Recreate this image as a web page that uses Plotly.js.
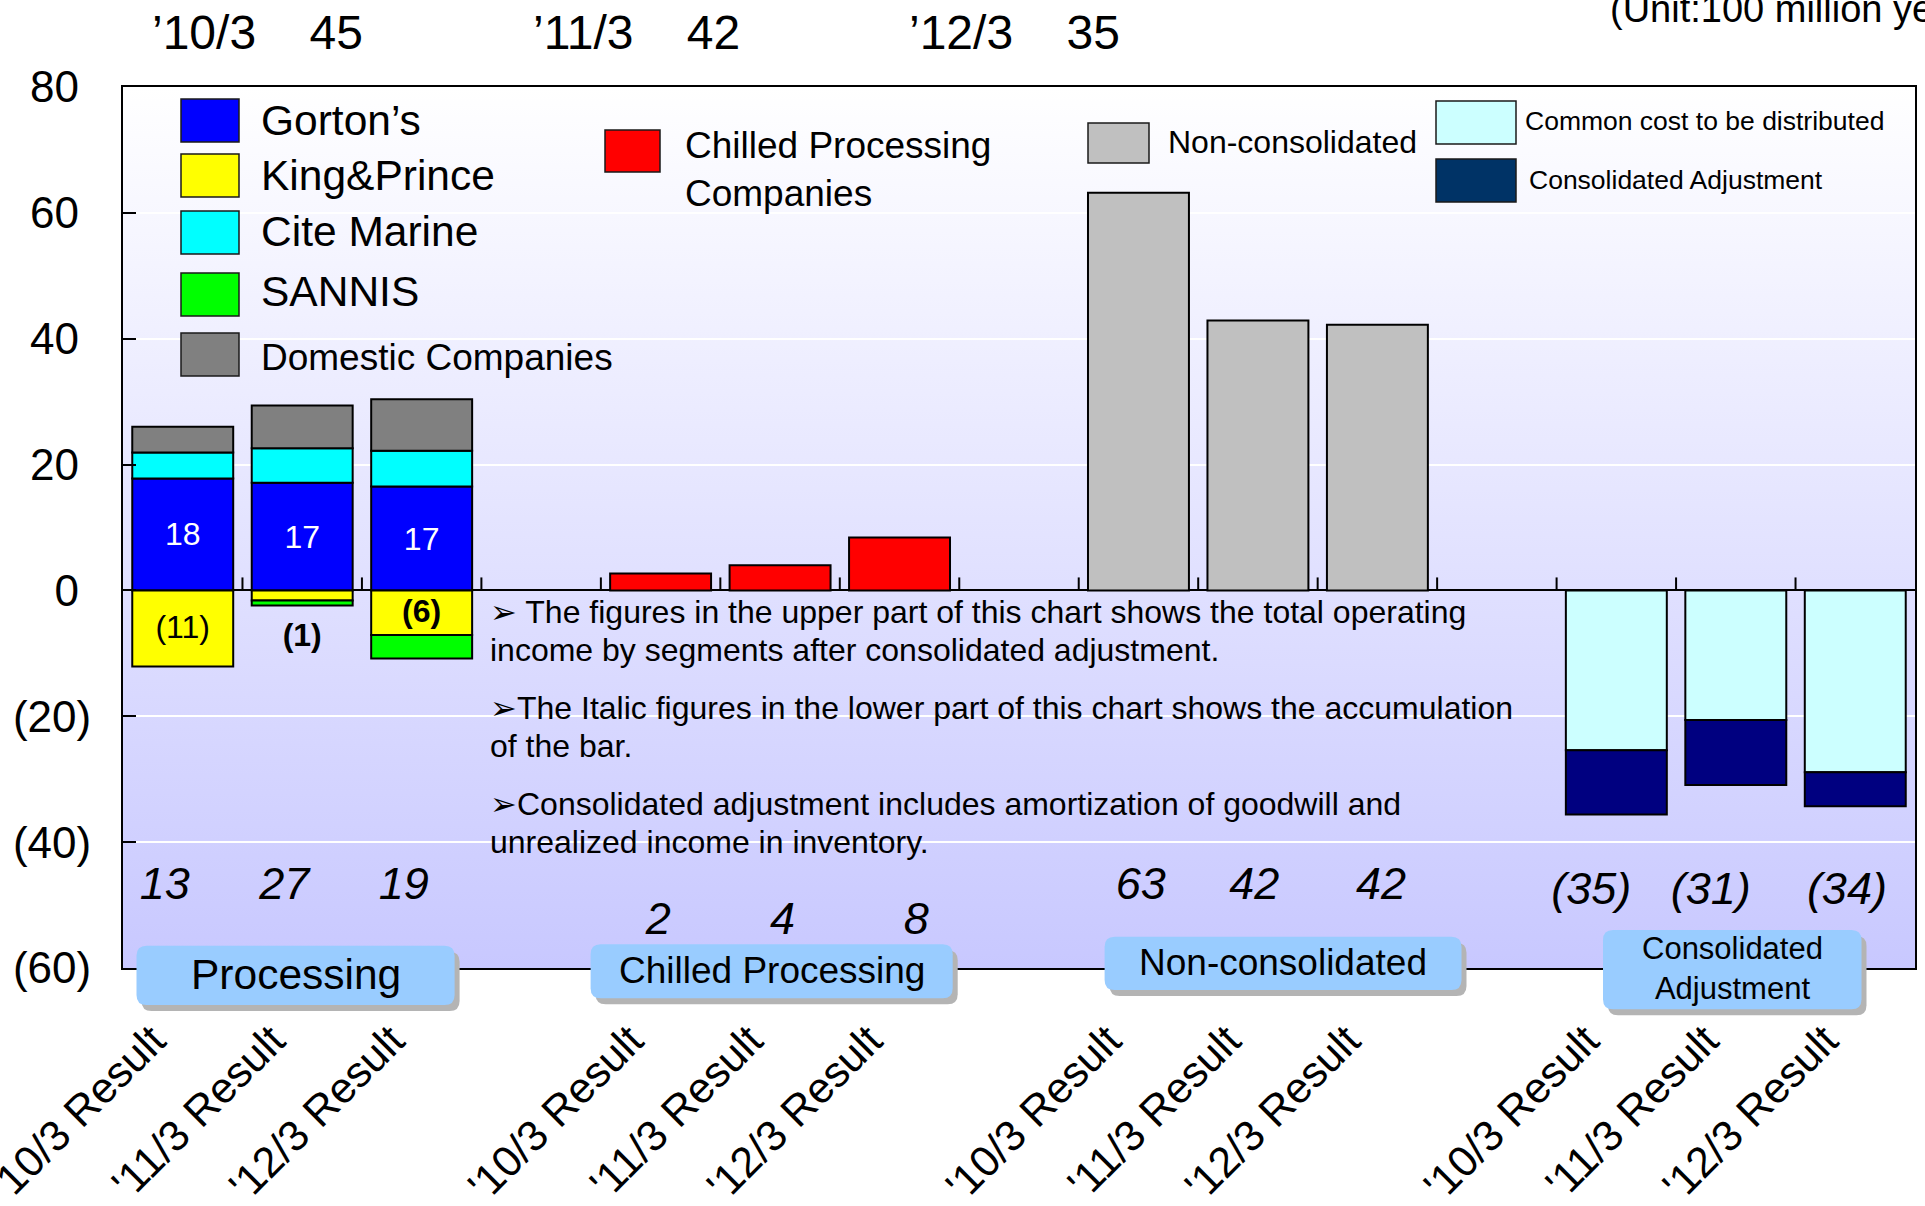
<!DOCTYPE html>
<html><head><meta charset="utf-8">
<script src="https://cdn.plot.ly/plotly-3.0.1.min.js"></script>
<style>html,body{margin:0;padding:0;background:#fff;} #chart{width:1925px;height:1206px;}</style>
</head><body><div id="chart"></div>
<script>
// ---------------- data ----------------
const periods = ["'10/3 Result", "'11/3 Result", "'12/3 Result"];
const segmentLabels = ["Processing", "Chilled Processing", "Non-consolidated", "Consolidated<br>Adjustment"];
const gortons = [17.8, 17.1, 16.5];
const citeMarine = [4.1, 5.5, 5.7];
const domestic = [4.1, 6.8, 8.2];
const kingPrince = [-12.1, -1.6, -7.1];
const sannis = [null, -0.8, -3.7];
const chilled = [2.7, 4.0, 8.4];
const nonConsolidated = [63.2, 42.9, 42.2];
const commonCost = [-25.4, -20.6, -28.9];
const consolidatedAdj = [-10.2, -10.3, -5.4];
const gortonsLabels = ["18", "17", "17"];
const kingPrinceLabels = ["(11)", "(1)", "(6)"];
const processingTotals = [13, 27, 19];
const chilledTotals = [2, 4, 8];
const nonConsolidatedTotals = [63, 42, 42];
const adjustmentTotals = [-35, -31, -34];
const headYears = ["’10/3", "’11/3", "’12/3"];
const headValues = [45, 42, 35];
const yTickVals = [-60, -40, -20, 0, 20, 40, 60, 80];
const noteLines = [
  "➢ The figures in the upper part of this chart shows the total operating",
  "income by segments after consolidated adjustment.",
  "➢The Italic figures in the lower part of this chart shows the accumulation",
  "of the bar.",
  "➢Consolidated adjustment includes amortization of goodwill and",
  "unrealized income in inventory."
];

// ---------------- helpers ----------------
const FONT = "Liberation Sans, Arial, sans-serif";
const W = 1925, H = 1206, L = 123, R = 1915, T = 87, B = 968;
const px = x => (x - L) / (R - L);
const py = y => (B - y) / (B - T);
const nb = n => "\u00a0".repeat(n);
const fmt = v => v < 0 ? "(" + (-v) + ")" : String(v);
const catPos = g => periods.map((_, i) => g * 4 + i);
const procX = catPos(0), chillX = catPos(1), nonX = catPos(2), adjX = catPos(3);
const outline = {color: "#000", width: 2};

function barTrace(name, x, y, color, extra) {
  return Object.assign({type: "bar", name: name, x: x, y: y,
    marker: {color: color, line: outline}, hoverinfo: "skip", showlegend: false}, extra || {});
}
function textTrace(x, y, text, font) {
  return {type: "scatter", mode: "text", x: x, y: y, text: text, textposition: "middle center",
    textfont: Object.assign({family: FONT, color: "#000"}, font), hoverinfo: "skip", showlegend: false, cliponaxis: false};
}
// small horizontal nudges of the total labels (layout only)
const shift = (xs, d) => xs.map((x, i) => x + d[i]);
const row = (arr, y) => arr.map(() => y);

const traces = [
  barTrace("Gorton’s", procX, gortons, "#0000FF", {text: gortonsLabels, texttemplate: "%{text}",
    textposition: "inside", insidetextanchor: "middle", textangle: 0, constraintext: "none",
    insidetextfont: {color: "#ffffff", size: 32, family: FONT}}),
  barTrace("Cite Marine", procX, citeMarine, "#00FFFF"),
  barTrace("Domestic Companies", procX, domestic, "#808080"),
  barTrace("King&Prince", procX, kingPrince, "#FFFF00"),
  barTrace("SANNIS", procX, sannis, "#00FF00"),
  barTrace("Chilled Processing Companies", chillX, chilled, "#FF0000"),
  barTrace("Non-consolidated", nonX, nonConsolidated, "#C0C0C0"),
  barTrace("Common cost to be distributed", adjX, commonCost, "#CCFFFF"),
  barTrace("Consolidated Adjustment", adjX, consolidatedAdj, "#000080"),
  // King&Prince labels: centred in the yellow block, or under a thin stack
  textTrace(procX,
    kingPrince.map((v, i) => Math.abs(v) > 3 ? v / 2 - 0.2 : v + (sannis[i] || 0) - 5.2),
    kingPrinceLabels.map((s, i) => i === 0 ? s : "<b>" + s + "</b>"), {size: 32}),
  // accumulated totals (italic)
  textTrace(shift(procX, [-0.15, -0.15, -0.15]), row(processingTotals, -47.3), processingTotals.map(fmt), {size: 45, style: "italic"}),
  textTrace(shift(chillX, [-0.02, 0.02, 0.14]), row(chilledTotals, -52.8), chilledTotals.map(fmt), {size: 45, style: "italic"}),
  textTrace(shift(nonX, [0.02, -0.03, 0.03]), row(nonConsolidatedTotals, -47.3), nonConsolidatedTotals.map(fmt), {size: 45, style: "italic"}),
  textTrace(shift(adjX, [-0.21, -0.21, -0.07]), row(adjustmentTotals, -48.1), adjustmentTotals.map(fmt), {size: 45, style: "italic"})
];

// ---------------- shapes ----------------
const shapes = [];
// category tick marks on the zero line (between every category slot)
for (let k = 1; k < 15; k++) {
  shapes.push({type: "line", xref: "x", yref: "y", ysizemode: "pixel", yanchor: 0,
    x0: k - 0.5, x1: k - 0.5, y0: 0, y1: 13, line: {color: "#000", width: 2}, layer: "above"});
}
function rect(x0, y0, x1, y1, fill) {
  return {type: "rect", xref: "paper", yref: "paper", x0: px(x0), x1: px(x1), y0: py(y1), y1: py(y0),
    fillcolor: fill, line: {color: "#1a1a1a", width: 1.5}, layer: "above"};
}
// legend swatches: [label, colour, swatch top, text centre, font size]
const leg1 = [["Gorton’s", "#0000FF", 99, 120, 42.5], ["King&Prince", "#FFFF00", 154, 175, 42.5],
  ["Cite Marine", "#00FFFF", 211, 231, 42.5], ["SANNIS", "#00FF00", 273, 291, 42.5],
  ["Domestic Companies", "#808080", 333, 357, 37]];
leg1.forEach(d => shapes.push(rect(181, d[2], 239, d[2] + 43, d[1])));
shapes.push(rect(605, 130, 660, 172, "#FF0000"));
shapes.push(rect(1088, 123, 1149, 163, "#C0C0C0"));
shapes.push(rect(1436, 101, 1516, 144, "#CCFFFF"));
shapes.push(rect(1436, 159, 1516, 202, "#003366"));

function roundRectPath(x0, y0, x1, y1, r) {
  const P = (x, y) => px(x) + "," + py(y);
  return "M" + P(x0 + r, y0) + " L" + P(x1 - r, y0) + " Q" + P(x1, y0) + " " + P(x1, y0 + r) +
    " L" + P(x1, y1 - r) + " Q" + P(x1, y1) + " " + P(x1 - r, y1) +
    " L" + P(x0 + r, y1) + " Q" + P(x0, y1) + " " + P(x0, y1 - r) +
    " L" + P(x0, y0 + r) + " Q" + P(x0, y0) + " " + P(x0 + r, y0) + " Z";
}
const boxes = [[136.5, 945.7, 454.6, 1005, 42.5], [590.6, 944.3, 952.7, 998.3, 37],
  [1104.6, 936.7, 1461.5, 990, 37], [1603, 930, 1861.5, 1009.3, 31]];
boxes.forEach(b => {
  shapes.push({type: "path", xref: "paper", yref: "paper", path: roundRectPath(b[0] + 5, b[1] + 6, b[2] + 5, b[3] + 6, 10),
    fillcolor: "#B4B4B4", line: {width: 0}, layer: "above"});
  shapes.push({type: "path", xref: "paper", yref: "paper", path: roundRectPath(b[0], b[1], b[2], b[3], 10),
    fillcolor: "#99CCFF", line: {width: 0}, layer: "above"});
});

// ---------------- annotations ----------------
function ann(text, x, y, size, opts) {
  return Object.assign({text: text, xref: "paper", yref: "paper", x: px(x), y: py(y), xanchor: "left", yanchor: "middle",
    showarrow: false, font: {size: size, color: "#000", family: FONT}}, opts || {});
}
const annotations = [];
leg1.forEach(d => annotations.push(ann(d[0], 259, d[3], d[4])));
annotations.push(ann("Chilled Processing<br>Companies", 683, 169, 37, {align: "left"}));
annotations.push(ann("Non-consolidated", 1166, 142, 32));
annotations.push(ann("Common cost to be distributed", 1523, 121, 26.5));
annotations.push(ann("Consolidated Adjustment", 1527, 180, 26.5));
// header figures
const headX = [150, 531, 907];
headYears.forEach((s, i) => annotations.push(ann(s + nb(4) + headValues[i], headX[i], 32, 48)));
annotations.push(ann("(Unit:100 million yen)", 1608, 9, 38));
// notes
const noteY = [612, 650, 708, 746, 804, 842];
noteLines.forEach((s, i) => annotations.push(ann(s, 488, noteY[i], 32)));
// segment boxes text
boxes.forEach((b, i) => {
  const cx = (b[0] + b[2]) / 2, cy = (b[1] + b[3]) / 2 - 3;
  annotations.push(ann(segmentLabels[i], cx, cy + 2, b[4], {xanchor: "center", align: "center"}));
});

// ---------------- background gradient ----------------
const gradSvg = "<svg xmlns='http://www.w3.org/2000/svg' width='10' height='100' viewBox='0 0 10 100' preserveAspectRatio='none'>" +
  "<defs><linearGradient id='g' x1='0' y1='0' x2='0' y2='1'><stop offset='0' stop-color='#ffffff'/>" +
  "<stop offset='1' stop-color='#c8c8ff'/></linearGradient></defs><rect x='0' y='0' width='10' height='100' fill='url(#g)'/></svg>";

const tickVals = procX.concat(chillX, nonX, adjX);
const tickText = tickVals.map((_, i) => periods[i % 3]);

const layout = {
  width: W, height: H,
  margin: {l: L, r: W - R, t: T, b: H - B, pad: 0},
  paper_bgcolor: "#ffffff", plot_bgcolor: "#e6e6ff",
  font: {family: FONT, color: "#000"},
  barmode: "relative", bargap: 0.155, showlegend: false,
  xaxis: {range: [-0.5, 14.5], tickmode: "array", tickvals: tickVals, ticktext: tickText, tickangle: -45,
    tickfont: {size: 43, family: FONT}, ticks: "", showgrid: false, zeroline: false,
    showline: true, mirror: true, linecolor: "#000", linewidth: 2, ticklabelstandoff: 28, ticklabelshift: -30,
    ticklabeloverflow: "allow", fixedrange: true},
  yaxis: {range: [-60, 80], tickmode: "array", tickvals: yTickVals,
    ticktext: yTickVals.map(v => v < 0 ? "(" + (-v) + ")" : v + nb(1)),
    ticks: "inside", ticklen: 13, tickwidth: 2, tickcolor: "#000", tickfont: {size: 44, family: FONT},
    showgrid: true, gridcolor: "#ffffff", gridwidth: 2, zeroline: true, zerolinecolor: "#000", zerolinewidth: 2,
    showline: true, mirror: true, linecolor: "#000", linewidth: 2, ticklabelstandoff: 21, fixedrange: true},
  images: [{source: "data:image/svg+xml;charset=utf-8," + encodeURIComponent(gradSvg), xref: "paper", yref: "paper",
    x: 0, y: 1, sizex: 1, sizey: 1, xanchor: "left", yanchor: "top", sizing: "stretch", layer: "below"}],
  shapes: shapes, annotations: annotations
};

Plotly.newPlot("chart", traces, layout, {staticPlot: true, displayModeBar: false});
</script></body></html>
